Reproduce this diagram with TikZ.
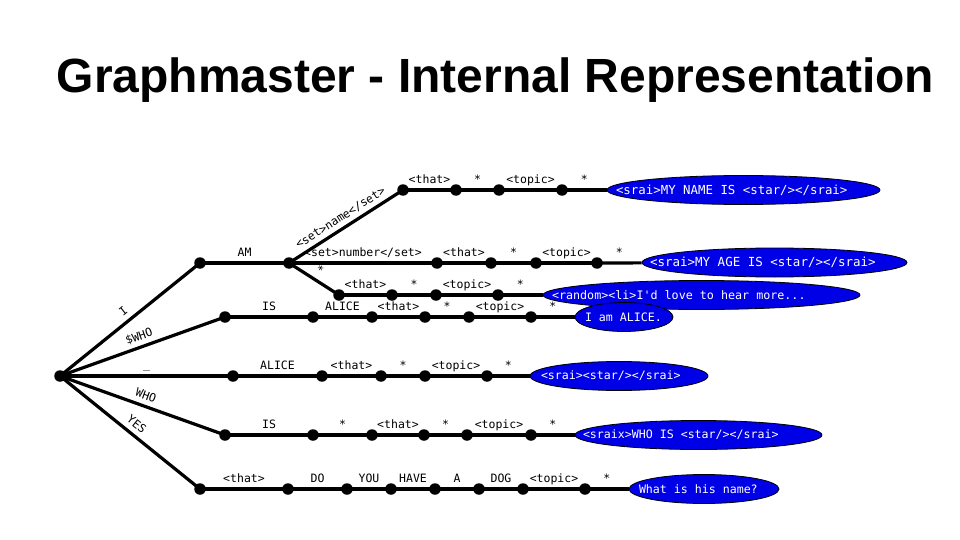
\documentclass[tikz,border=0pt]{standalone}
\usepackage{fontspec}
\setmainfont{Liberation Sans}
\setmonofont{DejaVu Sans Mono}
\usetikzlibrary{shapes.geometric,backgrounds}
\definecolor{eblue}{RGB}{0,0,230}
\newcommand{\etxt}[2]{\makebox[0pt][l]{\hspace*{#1pt}#2}}
\begin{document}
\begin{tikzpicture}[x=1pt,y=-1pt,
  dot/.style={circle,fill=black,inner sep=0pt,minimum size=11.5pt},
  edge/.style={line width=3.2pt},
  lab/.style={font=\ttfamily\fontsize{11.5}{13}\selectfont,inner sep=0pt,text depth=0pt,above=5pt,sloped},
  ell/.style={ellipse,draw=black,line width=0.8pt,fill=eblue,text=white,inner sep=0pt,
    minimum height=29pt,font=\ttfamily\fontsize{11.6}{14}\selectfont}]
\useasboundingbox (0,0) rectangle (960,540);
\node[anchor=base,font=\bfseries\fontsize{48}{58}\selectfont] (title) at (495.5,93) {Graphmaster - Internal Representation};
% nodes
\node[dot] (r) at (60,376) {};
\node[dot] (a1) at (200,263) {};
\node[dot] (a2) at (289,263) {};
\node[dot] (t1) at (403,190) {};
\node[dot] (t2) at (456,190) {};
\node[dot] (t3) at (499,190) {};
\node[dot] (t4) at (562,190) {};
\node[dot] (n1) at (437,263) {};
\node[dot] (n2) at (491,263) {};
\node[dot] (n3) at (536,263) {};
\node[dot] (n4) at (597,263) {};
\node[dot] (s1) at (339,295) {};
\node[dot] (s2) at (392,295) {};
\node[dot] (s3) at (436,295) {};
\node[dot] (s4) at (498,295) {};
\node[dot] (b1) at (225,317) {};
\node[dot] (b2) at (313,317) {};
\node[dot] (b3) at (372,317) {};
\node[dot] (b4) at (425,317) {};
\node[dot] (b5) at (469,317) {};
\node[dot] (b6) at (531,317) {};
\node[dot] (c1) at (233,376) {};
\node[dot] (c2) at (322,376) {};
\node[dot] (c3) at (381,376) {};
\node[dot] (c4) at (425,376) {};
\node[dot] (c5) at (487,376) {};
\node[dot] (d1) at (225,435) {};
\node[dot] (d2) at (313,435) {};
\node[dot] (d3) at (372,435) {};
\node[dot] (d4) at (424,435) {};
\node[dot] (d5) at (467,435) {};
\node[dot] (d6) at (531,435) {};
\node[dot] (f1) at (200,489) {};
\node[dot] (f2) at (288,489) {};
\node[dot] (f3) at (347,489) {};
\node[dot] (f4) at (391,489) {};
\node[dot] (f5) at (435,489) {};
\node[dot] (f6) at (479,489) {};
\node[dot] (f7) at (523,489) {};
\node[dot] (f8) at (585,489) {};
% ellipses
\node[ell,minimum width=273pt,font=\ttfamily\fontsize{12.4}{14}\selectfont] (e1) at (743.5,190) {\etxt{-127.5}{<srai>MY NAME IS <star/></srai>}};
\node[ell,minimum width=265pt,font=\ttfamily\fontsize{12.5}{14}\selectfont] (e2) at (774.5,262.5) {\etxt{-124.5}{<srai>MY AGE IS <star/></srai>}};
\node[ell,minimum width=317pt,font=\ttfamily\fontsize{11.7}{14}\selectfont] (e3) at (701.5,295) {\etxt{-149.5}{<random><li>I'd love to hear more...}};
\node[ell,minimum width=98pt] (e4) at (624,317) {\etxt{-39}{I am ALICE.}};
\node[ell,minimum width=178pt] (e5) at (619,376) {\etxt{-78}{<srai><star/></srai>}};
\node[ell,minimum width=247pt] (e6) at (698.5,435) {\etxt{-115.5}{<sraix>WHO IS <star/></srai>}};
\node[ell,minimum width=150pt] (e7) at (704,489) {\etxt{-65}{What is his name?}};
% edges
\begin{scope}[on background layer]
\draw[edge] (r.center) -- node[lab]{I} (a1.center);
\draw[edge] (r.center) -- node[lab]{\$WHO} (b1.center);
\draw[edge] (r.center) -- node[lab]{\_} (c1.center);
\draw[edge] (r.center) -- node[lab]{WHO} (d1.center);
\draw[edge] (r.center) -- node[lab]{YES} (f1.center);
\draw[edge] (a1.center) -- node[lab]{AM} (a2.center);
\draw[edge] (a2.center) -- node[lab]{<set>name</set>} (t1.center);
\draw[edge] (t1.center) -- node[lab]{<that>} (t2.center);
\draw[edge] (t2.center) -- node[lab]{*} (t3.center);
\draw[edge] (t3.center) -- node[lab]{<topic>} (t4.center);
\draw[edge] (t4.center) -- node[lab]{*} (e1);
\draw[edge] (a2.center) -- node[lab]{<set>number</set>} (n1.center);
\draw[edge] (n1.center) -- node[lab]{<that>} (n2.center);
\draw[edge] (n2.center) -- node[lab]{*} (n3.center);
\draw[edge] (n3.center) -- node[lab]{<topic>} (n4.center);
\draw[edge] (n4.center) -- node[lab]{*} (e2);
\draw[edge] (a2.center) -- node[lab]{*} (s1.center);
\draw[edge] (s1.center) -- node[lab]{<that>} (s2.center);
\draw[edge] (s2.center) -- node[lab]{*} (s3.center);
\draw[edge] (s3.center) -- node[lab]{<topic>} (s4.center);
\draw[edge] (s4.center) -- node[lab]{*} (e3);
\draw[edge] (b1.center) -- node[lab]{IS} (b2.center);
\draw[edge] (b2.center) -- node[lab]{ALICE} (b3.center);
\draw[edge] (b3.center) -- node[lab]{<that>} (b4.center);
\draw[edge] (b4.center) -- node[lab]{*} (b5.center);
\draw[edge] (b5.center) -- node[lab]{<topic>} (b6.center);
\draw[edge] (b6.center) -- node[lab]{*} (e4);
\draw[edge] (c1.center) -- node[lab]{ALICE} (c2.center);
\draw[edge] (c2.center) -- node[lab]{<that>} (c3.center);
\draw[edge] (c3.center) -- node[lab]{*} (c4.center);
\draw[edge] (c4.center) -- node[lab]{<topic>} (c5.center);
\draw[edge] (c5.center) -- node[lab]{*} (e5);
\draw[edge] (d1.center) -- node[lab]{IS} (d2.center);
\draw[edge] (d2.center) -- node[lab]{*} (d3.center);
\draw[edge] (d3.center) -- node[lab]{<that>} (d4.center);
\draw[edge] (d4.center) -- node[lab]{*} (d5.center);
\draw[edge] (d5.center) -- node[lab]{<topic>} (d6.center);
\draw[edge] (d6.center) -- node[lab]{*} (e6);
\draw[edge] (f1.center) -- node[lab]{<that>} (f2.center);
\draw[edge] (f2.center) -- node[lab]{DO} (f3.center);
\draw[edge] (f3.center) -- node[lab]{YOU} (f4.center);
\draw[edge] (f4.center) -- node[lab]{HAVE} (f5.center);
\draw[edge] (f5.center) -- node[lab]{A} (f6.center);
\draw[edge] (f6.center) -- node[lab]{DOG} (f7.center);
\draw[edge] (f7.center) -- node[lab]{<topic>} (f8.center);
\draw[edge] (f8.center) -- node[lab]{*} (e7);
\end{scope}
\end{tikzpicture}
\end{document}
